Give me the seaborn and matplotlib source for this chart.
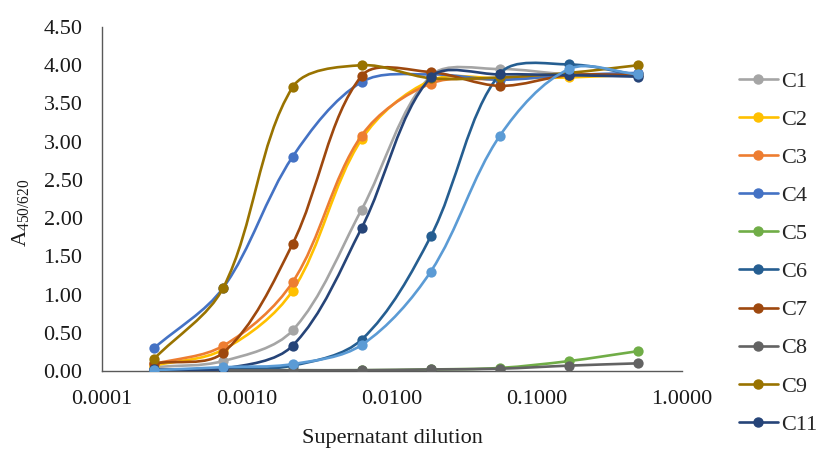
import numpy as np
import pandas as pd
import seaborn as sns
import matplotlib.pyplot as plt
from matplotlib.path import Path
from matplotlib.patches import PathPatch
from matplotlib.lines import Line2D
from matplotlib.ticker import FixedLocator, FormatStrFormatter, NullLocator

# Diluciones (1:2, serie 1/3)
dilution = [0.5, 0.1667, 0.0556, 0.0185, 0.00617, 0.00206, 0.000686, 0.000229]

# Absorbancias (de mayor a menor dilución)
c1 = [3.88, 3.88, 3.95, 3.86, 2.11, 0.53, 0.13, 0.05]
c2 = [3.88, 3.84, 3.83, 3.80, 3.03, 1.05, 0.28, 0.07]
c3 = [3.88, 3.87, 3.82, 3.76, 3.08, 1.16, 0.33, 0.09]
c4 = [3.90, 3.87, 3.81, 3.88, 3.78, 2.80, 1.09, 0.30]
c5 = [0.26, 0.13, 0.04, 0.02, 0.01, 0.01, 0.01, 0.00]
c6 = [3.87, 4.01, 3.89, 1.76, 0.41, 0.07, 0.03, 0.01]
c7 = [3.87, 3.87, 3.73, 3.91, 3.86, 1.66, 0.24, 0.10]
c8 = [0.10, 0.07, 0.03, 0.02, 0.01, 0.01, 0.01, 0.01]
c9 = [4.00, 3.90, 3.84, 3.83, 4.00, 3.71, 1.09, 0.16]
c11 = [3.85, 3.87, 3.88, 3.84, 1.87, 0.33, 0.03, 0.02]
c12 = [3.88, 3.95, 3.08, 1.30, 0.34, 0.09, 0.05, 0.01]  # serie sin entrada en la leyenda

names = ['C1', 'C2', 'C3', 'C4', 'C5', 'C6', 'C7', 'C8', 'C9', 'C11', 'C12']
series = [c1, c2, c3, c4, c5, c6, c7, c8, c9, c11, c12]
colors = ['#A5A5A5', '#FFC000', '#ED7D31', '#4472C4', '#70AD47', '#255E91',
          '#9E480E', '#636363', '#997300', '#264478', '#5B9BD5']
in_legend = names[:-1]

df = pd.DataFrame({
    'dilution': np.tile(dilution, len(names)),
    'A': np.concatenate(series),
    'clone': np.repeat(names, len(dilution)),
})

sns.set_style('white')
plt.rcParams['font.family'] = ['Liberation Serif', 'DejaVu Serif']
plt.rcParams['mathtext.fontset'] = 'custom'
plt.rcParams['mathtext.rm'] = 'Liberation Serif'

fig = plt.figure(figsize=(8.18, 4.5), dpi=100)
ax = fig.add_axes([0.1247, 0.1756, 0.709, 0.7644])
ax.set_xscale('log')
ax.set_xlim(1e-4, 1)
ax.set_ylim(0, 4.5)

# escala en pixeles para el suavizado
bb = ax.get_window_extent()
sx = bb.width / 4.0
sy = bb.height / 4.5


def smooth_path(xs, ys):
    # línea suavizada tipo Excel: Bezier con tangentes ponderadas por la longitud de cada tramo
    order = np.argsort(xs)
    pts = np.column_stack([np.log10(np.asarray(xs, float)[order]) * sx,
                           np.asarray(ys, float)[order] * sy])
    n = len(pts)
    cin = [None] * n
    cout = [None] * n
    for i in range(n):
        p0 = pts[max(i - 1, 0)]
        p1 = pts[i]
        p2 = pts[min(i + 1, n - 1)]
        d01 = np.hypot(*(p1 - p0))
        d12 = np.hypot(*(p2 - p1))
        tot = d01 + d12
        if tot == 0:
            cin[i] = cout[i] = p1
            continue
        tang = p2 - p0
        cin[i] = p1 - tang * d01 / tot / 3
        cout[i] = p1 + tang * d12 / tot / 3
    verts = [pts[0]]
    codes = [Path.MOVETO]
    for i in range(n - 1):
        verts += [cout[i], cin[i + 1], pts[i + 1]]
        codes += [Path.CURVE4] * 3
    verts = np.array(verts)
    verts[:, 0] = 10 ** (verts[:, 0] / sx)
    verts[:, 1] = verts[:, 1] / sy
    return Path(verts, codes)


for i, (name, col) in enumerate(zip(names, colors)):
    sub = df[df['clone'] == name]
    ax.add_patch(PathPatch(smooth_path(sub['dilution'], sub['A']), facecolor='none',
                           edgecolor=col, lw=1.9, zorder=2 + i * 0.1))
    sns.scatterplot(data=sub, x='dilution', y='A', color=col, s=55, linewidth=0,
                    ax=ax, zorder=2.05 + i * 0.1, legend=False)

ax.set_xlim(1e-4, 1)
ax.set_ylim(0, 4.5)
ax.xaxis.set_major_locator(FixedLocator([1e-4, 1e-3, 1e-2, 1e-1, 1]))
ax.xaxis.set_minor_locator(NullLocator())
ax.xaxis.set_major_formatter(FormatStrFormatter('%.4f'))
ax.set_yticks(np.arange(0, 4.51, 0.5))
ax.yaxis.set_major_formatter(FormatStrFormatter('%.2f'))

sns.despine(ax=ax)
for s in ['left', 'bottom']:
    ax.spines[s].set_color('#595959')
    ax.spines[s].set_linewidth(1.0)
ax.tick_params(axis='both', direction='out', length=6, width=1.0, color='#595959',
               labelsize=16, labelcolor='#1a1a1a', pad=8)

ax.set_xlabel('Supernatant dilution', fontsize=16, color='#1a1a1a', labelpad=14)
ax.set_ylabel(r'A$_{\mathregular{450/620}}$', fontsize=16, color='#1a1a1a')
ax.yaxis.set_label_coords(-0.12, 0.46)

handles = [Line2D([], [], color=c, lw=1.9, marker='o', markersize=6.5)
           for n, c in zip(names, colors) if n in in_legend]
fig.legend(handles, in_legend, loc='upper left', bbox_to_anchor=(0.9034, 0.842),
           frameon=False, fontsize=16, handlelength=1.75, handletextpad=0.15,
           labelspacing=0.79, borderpad=0, borderaxespad=0)

fig.savefig('out.png', dpi=100)
